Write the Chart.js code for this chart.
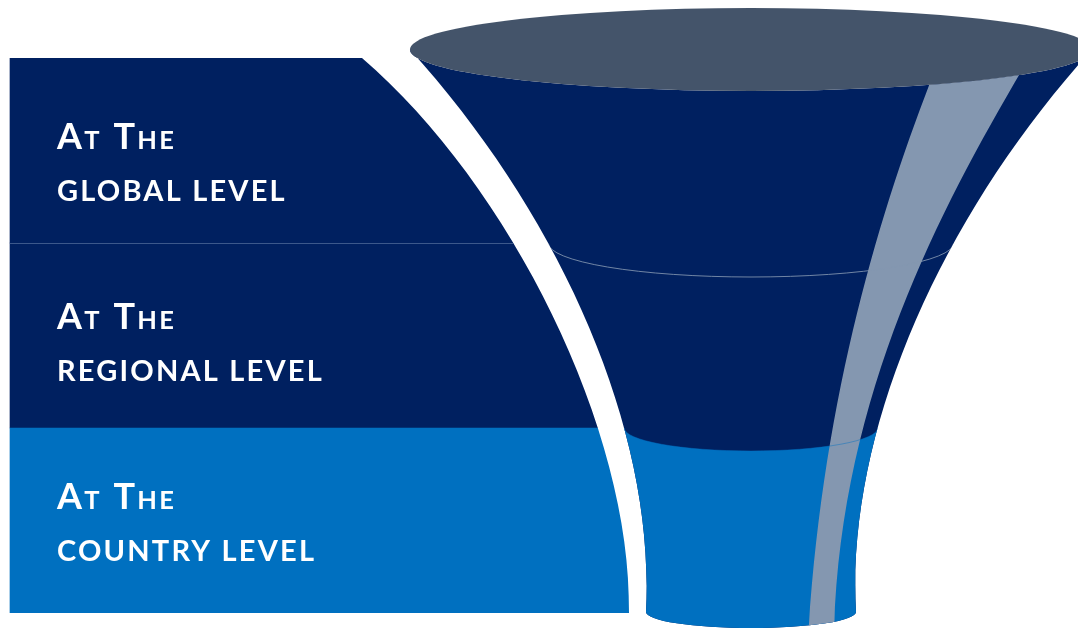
<!DOCTYPE html>
<html><head><meta charset="utf-8">
<style>html,body{margin:0;padding:0;background:#fff;overflow:hidden}#wrap{width:1078px;height:628px;position:relative}</style>
<script src="https://cdn.jsdelivr.net/npm/chart.js@4/dist/chart.umd.min.js"></script>
</head><body><div id="wrap"><canvas id="c" width="1078" height="628"></canvas></div>
<script>
// ---- data ----
const levels = ['global level', 'regional level', 'country level'];
const prefixes = ['At The', 'At The', 'At The'];
const panelReach = [516, 598, 629];
const panelBase = 10;

// ---- styles ----
const panelColors = ['#002060', '#002060', '#0070C0'];
const COL = { navy: '#002060', blue: '#0070C0', rim: '#44546A', shine: '#8497B0' };
const TEXT = { x: 57, first: 149, step: 180, second: 51.7, big: 36, small: 25.5, line2: 29, font: 'Lato' };
// vertical layout units: band area spans these units
const BAND_UNITS = [58, 613];
// funnel shape (axis units)
const G = {
  cx: 751,
  top: { cy: 49.5, rx: 341, ry: 41.5 },
  bottom: { cy: 612, ry: 16 },
  side: [[410, 49.5], [560, 215], [656, 430], [646, 612]],
  panelEdge: [[362, 58], [510, 185], [632, 430], [629, 613]],
  shineL: [[935, 70], [880, 210], [822, 400], [808, 640]],
  shineR: [[1022, 70], [940, 210], [838, 400], [834, 640]],
  sepRy: [34, 23]
};

function bez(c, t) {
  const u = 1 - t;
  return [u*u*u*c[0][0] + 3*u*u*t*c[1][0] + 3*u*t*t*c[2][0] + t*t*t*c[3][0],
          u*u*u*c[0][1] + 3*u*u*t*c[1][1] + 3*u*t*t*c[2][1] + t*t*t*c[3][1]];
}
function xAtY(c, y) {
  let lo = 0, hi = 1;
  for (let k = 0; k < 50; k++) { const m = (lo + hi) / 2; if (bez(c, m)[1] < y) lo = m; else hi = m; }
  return bez(c, (lo + hi) / 2)[0];
}

function mapper(chart) {
  const xs = chart.scales.x, ys = chart.scales.y;
  const n = levels.length;
  const half = n > 1 ? (ys.getPixelForValue(1) - ys.getPixelForValue(0)) / 2 : 0;
  const top = ys.getPixelForValue(0) - half, bot = ys.getPixelForValue(n - 1) + half;
  const k = (bot - top) / (BAND_UNITS[1] - BAND_UNITS[0]);
  const Yp = v => top + (v - BAND_UNITS[0]) * k;
  const P = p => [xs.getPixelForValue(p[0]), Yp(p[1])];
  const DX = d => xs.getPixelForValue(d) - xs.getPixelForValue(0);
  const DY = d => d * k;
  return { P, DX, DY, Yp, xs };
}

function bandEdges(chart) {
  const ys = chart.scales.y, e = [];
  for (let i = 0; i < levels.length - 1; i++) e.push((ys.getPixelForValue(i) + ys.getPixelForValue(i + 1)) / 2);
  return e;
}

const panelClip = {
  id: 'panelClip',
  beforeDatasetsDraw(chart) {
    const ctx = chart.ctx, { P } = mapper(chart);
    const c = G.panelEdge.map(P);
    ctx.save();
    ctx.beginPath();
    ctx.moveTo(0, 0); ctx.lineTo(c[0][0], 0); ctx.lineTo(c[0][0], c[0][1]);
    ctx.bezierCurveTo(c[1][0], c[1][1], c[2][0], c[2][1], c[3][0], c[3][1]);
    ctx.lineTo(c[3][0], chart.height); ctx.lineTo(0, chart.height); ctx.closePath();
    ctx.clip();
  },
  afterDatasetsDraw(chart) {
    const ctx = chart.ctx, xs = chart.scales.x;
    const e = bandEdges(chart);
    ctx.strokeStyle = 'rgba(110,135,175,0.55)';
    ctx.lineWidth = 1;
    ctx.beginPath();
    ctx.moveTo(xs.getPixelForValue(panelBase), Math.round(e[0]) + 0.5);
    ctx.lineTo(chart.width, Math.round(e[0]) + 0.5);
    ctx.stroke();
    ctx.restore();
  }
};

const funnel = {
  id: 'funnel',
  afterDraw(chart) {
    const ctx = chart.ctx, { P, DX, DY, Yp, xs } = mapper(chart);
    const cx = P([G.cx, 0])[0];
    const L = G.side.map(P);
    const R = L.map(p => [2 * cx - p[0], p[1]]);
    const tc = P([G.cx, G.top.cy]), trx = DX(G.top.rx), tryy = DY(G.top.ry);
    const bcy = Yp(G.bottom.cy), brx = cx - L[3][0], bry = DY(G.bottom.ry);
    const bodyPath = () => {
      ctx.beginPath();
      ctx.moveTo(L[0][0], L[0][1]);
      ctx.bezierCurveTo(L[1][0], L[1][1], L[2][0], L[2][1], L[3][0], L[3][1]);
      ctx.ellipse(cx, bcy, brx, bry, 0, Math.PI, 0, true);
      ctx.bezierCurveTo(R[2][0], R[2][1], R[1][0], R[1][1], R[0][0], R[0][1]);
      ctx.ellipse(tc[0], tc[1], trx, tryy, 0, 0, Math.PI, false);
      ctx.closePath();
    };
    const edges = bandEdges(chart);
    const seps = edges.map((y, i) => ({ y, rx: cx - xAtY(L, y), ry: DY(G.sepRy[i]) }));

    ctx.save();
    bodyPath();
    ctx.fillStyle = COL.navy;
    ctx.fill();
    bodyPath();
    ctx.clip();
    // lowest level
    const s2 = seps[seps.length - 1];
    ctx.beginPath();
    ctx.moveTo(0, s2.y); ctx.lineTo(cx - s2.rx, s2.y);
    ctx.ellipse(cx, s2.y, s2.rx, s2.ry, 0, Math.PI, 0, true);
    ctx.lineTo(chart.width, s2.y); ctx.lineTo(chart.width, chart.height); ctx.lineTo(0, chart.height);
    ctx.closePath();
    ctx.fillStyle = panelColors[panelColors.length - 1];
    ctx.fill();
    // shine stripe
    const a = G.shineL.map(P), b = G.shineR.map(P);
    ctx.beginPath();
    ctx.moveTo(a[0][0], a[0][1]);
    ctx.bezierCurveTo(a[1][0], a[1][1], a[2][0], a[2][1], a[3][0], a[3][1]);
    ctx.lineTo(b[3][0], b[3][1]);
    ctx.bezierCurveTo(b[2][0], b[2][1], b[1][0], b[1][1], b[0][0], b[0][1]);
    ctx.closePath();
    ctx.fillStyle = COL.shine;
    ctx.fill();
    // separator lines
    ctx.lineWidth = 1;
    ctx.strokeStyle = 'rgba(132,151,176,0.85)';
    ctx.beginPath();
    ctx.ellipse(cx, seps[0].y, seps[0].rx, seps[0].ry, 0, Math.PI, 0, true);
    ctx.stroke();
    ctx.strokeStyle = 'rgba(0,112,192,0.45)';
    ctx.beginPath();
    ctx.ellipse(cx, s2.y, s2.rx, s2.ry, 0, Math.PI, 0, true);
    ctx.stroke();
    ctx.restore();
    // top rim
    ctx.beginPath();
    ctx.ellipse(tc[0], tc[1], trx, tryy, 0, 0, Math.PI * 2);
    ctx.fillStyle = COL.rim;
    ctx.fill();

    // labels
    ctx.fillStyle = '#ffffff';
    ctx.textBaseline = 'alphabetic';
    ctx.textAlign = 'left';
    const hasLS = 'letterSpacing' in ctx;
    levels.forEach((lv, i) => {
      const y1 = Yp(TEXT.first + TEXT.step * i);
      const y2 = Yp(TEXT.first + TEXT.step * i + TEXT.second);
      let x = xs.getPixelForValue(TEXT.x);
      if (hasLS) ctx.letterSpacing = '2.3px';
      const words = prefixes[i].split(' ');
      words.forEach((w, wi) => {
        ctx.font = `bold ${TEXT.big}px ${TEXT.font}`;
        const f = w[0].toUpperCase();
        ctx.fillText(f, x, y1); x += ctx.measureText(f).width;
        ctx.font = `bold ${TEXT.small}px ${TEXT.font}`;
        const rest = w.slice(1).toUpperCase();
        ctx.fillText(rest, x, y1); x += ctx.measureText(rest).width;
        if (wi < words.length - 1) x += TEXT.small * 0.45;
      });
      if (hasLS) ctx.letterSpacing = '2.2px';
      ctx.font = `bold ${TEXT.line2}px ${TEXT.font}`;
      ctx.fillText(lv.toUpperCase(), xs.getPixelForValue(TEXT.x), y2);
    });
    if (hasLS) ctx.letterSpacing = '0px';
  }
};

new Chart(document.getElementById('c'), {
  type: 'bar',
  data: {
    labels: levels,
    datasets: [{
      data: panelReach,
      base: panelBase,
      backgroundColor: panelColors,
      borderWidth: 0,
      barPercentage: 1,
      categoryPercentage: 1
    }]
  },
  options: {
    indexAxis: 'y',
    responsive: false,
    animation: false,
    events: [],
    layout: { padding: { top: 58, bottom: 15, left: 0, right: 0 } },
    scales: {
      x: { type: 'linear', min: 0, max: 1078, display: false },
      y: { type: 'category', display: false }
    },
    plugins: { legend: { display: false }, tooltip: { enabled: false } }
  },
  plugins: [panelClip, funnel]
});
</script>
</body></html>
